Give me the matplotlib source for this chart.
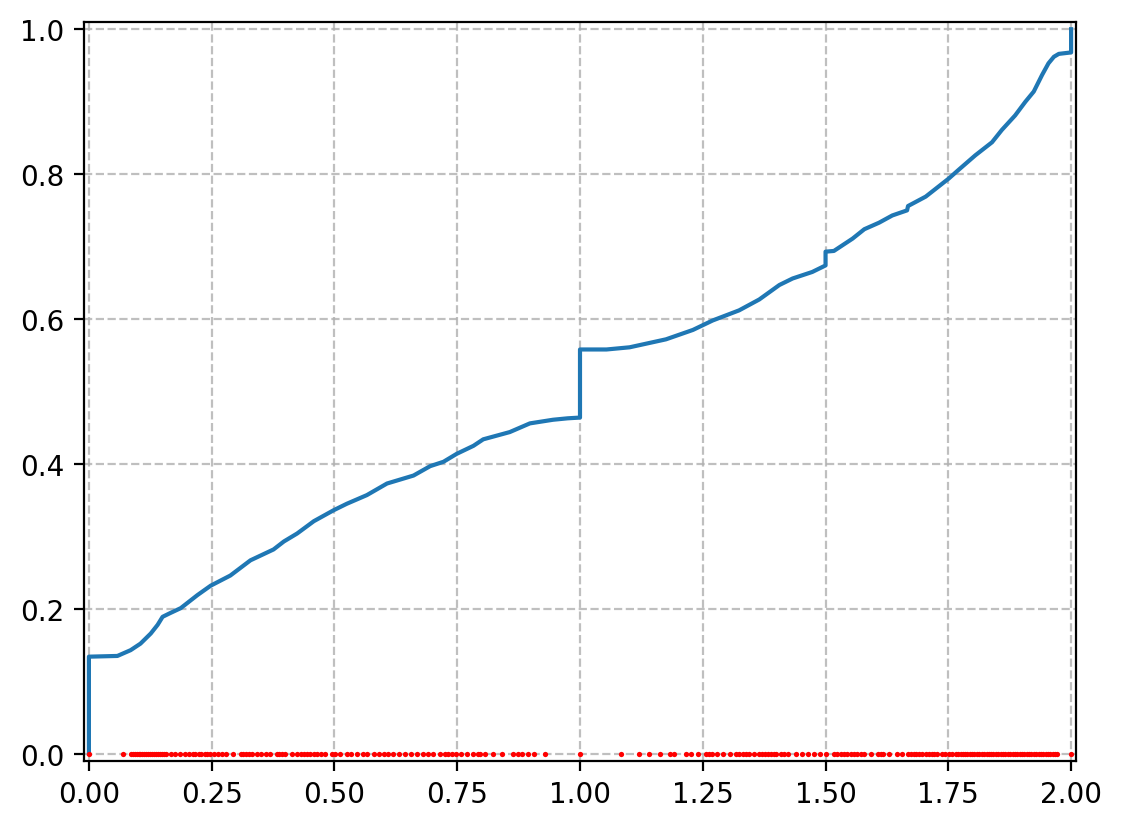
import matplotlib
matplotlib.use("Agg")
import matplotlib.pyplot as plt
import numpy as np

# --- curve ---
cdf_x = [0.0, 0.0, 0.058, 0.085, 0.105, 0.126, 0.140, 0.150, 0.165, 0.187,
         0.221, 0.248, 0.288, 0.329, 0.376, 0.397, 0.424, 0.458, 0.498, 0.525,
         0.566, 0.607, 0.661, 0.695, 0.722, 0.749, 0.783, 0.803, 0.857, 0.898,
         0.945, 0.975, 1.0, 1.0, 1.054, 1.101, 1.175, 1.230, 1.270, 1.324,
         1.365, 1.406, 1.433, 1.473, 1.5, 1.5, 1.517, 1.555, 1.579, 1.609,
         1.636, 1.666, 1.668, 1.704, 1.751, 1.771, 1.805, 1.839, 1.859, 1.886,
         1.907, 1.924, 1.941, 1.954, 1.965, 1.975, 2.0, 2.0]
cdf_y = [0.0, 0.134, 0.135, 0.143, 0.152, 0.166, 0.178, 0.189, 0.194, 0.201,
         0.219, 0.232, 0.246, 0.267, 0.282, 0.293, 0.304, 0.321, 0.336, 0.345,
         0.357, 0.373, 0.384, 0.397, 0.403, 0.414, 0.425, 0.434, 0.444, 0.456,
         0.461, 0.463, 0.464, 0.558, 0.558, 0.561, 0.572, 0.585, 0.598, 0.612,
         0.627, 0.647, 0.656, 0.665, 0.674, 0.693, 0.694, 0.711, 0.724, 0.733,
         0.743, 0.750, 0.756, 0.769, 0.794, 0.806, 0.826, 0.844, 0.861, 0.881,
         0.900, 0.914, 0.937, 0.953, 0.962, 0.966, 0.968, 1.0]

# --- sample positions (red dots on the x axis) ---
sample_x = [
    0.0, 0.070,
    0.085, 0.089, 0.093, 0.097, 0.101, 0.105, 0.109, 0.113, 0.117, 0.121,
    0.125, 0.129, 0.133, 0.137, 0.141, 0.145, 0.149, 0.153, 0.156,
    0.167, 0.175, 0.185, 0.196, 0.204, 0.212, 0.217, 0.224, 0.229, 0.236,
    0.241, 0.247, 0.255, 0.263, 0.272, 0.280, 0.294, 0.309, 0.314, 0.320,
    0.326, 0.333, 0.343, 0.351, 0.360, 0.369, 0.383, 0.388, 0.393, 0.400,
    0.414, 0.424, 0.432, 0.439, 0.444, 0.451, 0.458, 0.465, 0.473, 0.481,
    0.495, 0.502, 0.512, 0.526, 0.534, 0.546, 0.558, 0.566, 0.580, 0.590,
    0.600, 0.610, 0.620, 0.632, 0.644, 0.656, 0.668, 0.680, 0.691, 0.700,
    0.715, 0.725, 0.732, 0.739, 0.748, 0.758, 0.769, 0.783, 0.792, 0.796,
    0.806, 0.823, 0.842, 0.864, 0.873, 0.881, 0.894, 0.906, 0.928,
    1.0, 1.084, 1.121, 1.140, 1.162, 1.184, 1.191, 1.215, 1.226, 1.241,
    1.257, 1.262, 1.269, 1.278, 1.292, 1.305, 1.318, 1.324, 1.331, 1.338,
    1.345, 1.354, 1.365, 1.370, 1.376, 1.382, 1.389, 1.396, 1.400, 1.409,
    1.416, 1.424, 1.440, 1.452, 1.465, 1.477, 1.488, 1.5,
    1.517, 1.524, 1.531, 1.538, 1.544, 1.551, 1.558, 1.565, 1.572, 1.578,
    1.593, 1.607, 1.612, 1.618, 1.629, 1.645, 1.655, 1.668, 1.673, 1.680,
    1.685, 1.690, 1.697, 1.704, 1.710, 1.716, 1.721, 1.727, 1.737, 1.744,
    1.751, 1.758, 1.765, 1.770, 1.775, 1.779, 1.784, 1.789, 1.794, 1.799,
    1.803, 1.808, 1.813, 1.818, 1.823, 1.828, 1.832, 1.837, 1.842, 1.847,
    1.852, 1.857, 1.861, 1.866, 1.871, 1.876, 1.881, 1.886, 1.890, 1.895,
    1.900, 1.905, 1.910, 1.914, 1.919, 1.924, 1.929, 1.934, 1.939, 1.943,
    1.948, 1.953, 1.958, 1.963, 1.967, 1.971, 2.0,
]

fig = plt.figure(figsize=(5.625, 4.145), dpi=200)
ax = fig.add_axes([84 / 1125, 67 / 829, 992 / 1125, 739 / 829])

ax.plot(cdf_x, cdf_y, color='#1f77b4', lw=1.5)
ax.plot(sample_x, np.zeros(len(sample_x)), 'o', color='red',
        markersize=1.9, markeredgewidth=0)

ax.set_xlim(-0.01, 2.01)
ax.set_ylim(-0.01, 1.01)
ax.set_xticks([0.0, 0.25, 0.5, 0.75, 1.0, 1.25, 1.5, 1.75, 2.0])
ax.set_yticks([0.0, 0.2, 0.4, 0.6, 0.8, 1.0])
ax.grid(True, linestyle='--', color='#b0b0b0', alpha=0.8)

fig.savefig('out.png', dpi=200)
